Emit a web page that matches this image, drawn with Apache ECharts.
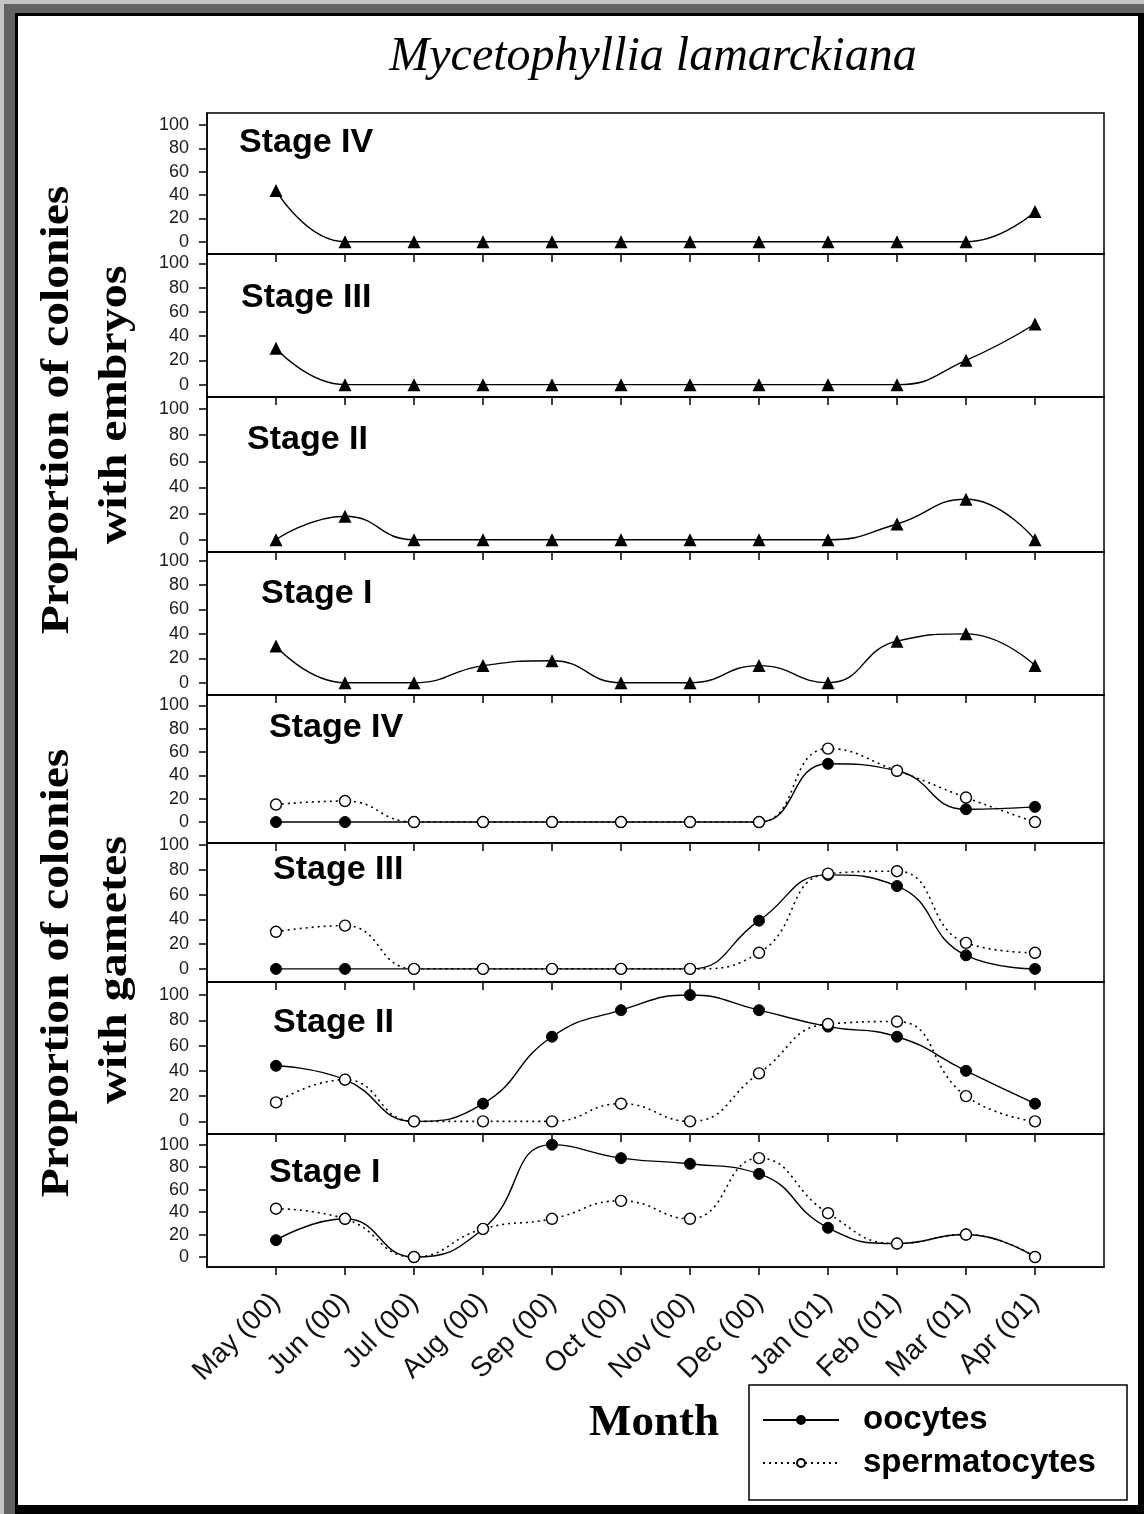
<!DOCTYPE html>
<html>
<head>
<meta charset="utf-8">
<title>Mycetophyllia lamarckiana</title>
<script src="https://cdn.jsdelivr.net/npm/echarts@6/dist/echarts.min.js"></script>
<style>
  html, body { margin: 0; padding: 0; overflow: hidden; background: #fff; }
  .layer { position: absolute; }
</style>
</head>
<body>
<!-- bevelled window frame around the figure -->
<div class="layer" style="left:0;top:0;width:1144px;height:1514px;background:#c4c4c4"></div>
<div class="layer" style="left:4px;top:4px;width:1140px;height:1510px;background:#626262"></div>
<div class="layer" style="left:15px;top:13px;width:1129px;height:1501px;background:#000"></div>
<div class="layer" style="left:18px;top:16px;width:1120px;height:1489px;background:#fff"></div>
<div id="chart" class="layer" style="left:0;top:0;width:1144px;height:1514px"></div>

<script>
// Sampling months (x axis)
const months = ['May (00)', 'Jun (00)', 'Jul (00)', 'Aug (00)', 'Sep (00)', 'Oct (00)',
                'Nov (00)', 'Dec (00)', 'Jan (01)', 'Feb (01)', 'Mar (01)', 'Apr (01)'];
const yTickValues = [0, 20, 40, 60, 80, 100];

// Proportion of colonies with embryos (%)
const embryoStageIV  = [44, 0, 0, 0, 0, 0, 0, 0, 0, 0, 0, 26];
const embryoStageIII = [30, 0, 0, 0, 0, 0, 0, 0, 0, 0, 20, 50];
const embryoStageII  = [0, 18, 0, 0, 0, 0, 0, 0, 0, 12, 31, 0];
const embryoStageI   = [30, 0, 0, 14, 18, 0, 0, 14, 0, 34, 40, 14];

// Proportion of colonies with gametes (%)
const oocyteStageIV  = [0, 0, 0, 0, 0, 0, 0, 0, 50, 44, 11, 13];
const spermStageIV   = [15, 18, 0, 0, 0, 0, 0, 0, 63, 44, 21, 0];
const oocyteStageIII = [0, 0, 0, 0, 0, 0, 0, 39, 76, 67, 11, 0];
const spermStageIII  = [30, 35, 0, 0, 0, 0, 0, 13, 77, 79, 21, 13];
const oocyteStageII  = [44, 33, 0, 14, 67, 88, 100, 88, 75, 67, 40, 14];
const spermStageII   = [15, 33, 0, 0, 0, 14, 0, 38, 77, 79, 20, 0];
const oocyteStageI   = [15, 34, 0, 25, 100, 88, 83, 74, 26, 12, 20, 0];
const spermStageI    = [43, 34, 0, 25, 34, 50, 34, 88, 39, 12, 20, 0];

// Panel stack, top to bottom
const panels = [
  { label: 'Stage IV',  embryo: embryoStageIV },
  { label: 'Stage III', embryo: embryoStageIII },
  { label: 'Stage II',  embryo: embryoStageII },
  { label: 'Stage I',   embryo: embryoStageI },
  { label: 'Stage IV',  oocytes: oocyteStageIV,  sperm: spermStageIV },
  { label: 'Stage III', oocytes: oocyteStageIII, sperm: spermStageIII },
  { label: 'Stage II',  oocytes: oocyteStageII,  sperm: spermStageII },
  { label: 'Stage I',   oocytes: oocyteStageI,   sperm: spermStageI }
];

// Panel geometry (pixels) and value range of each panel's y axis
const panelBoxes = [
  { top: 113,  bottom: 254,  min: -10.5, max: 110.3, labelX: 239, labelY: 143 },
  { top: 254,  bottom: 397,  min: -10.2, max: 107.7, labelX: 241, labelY: 298 },
  { top: 397,  bottom: 552,  min: -9.4,  max: 109.2, labelX: 247, labelY: 440 },
  { top: 552,  bottom: 695,  min: -10.1, max: 107.1, labelX: 261, labelY: 594 },
  { top: 695,  bottom: 843,  min: -18,   max: 109,   labelX: 269, labelY: 728 },
  { top: 843,  bottom: 982,  min: -10.6, max: 101.8, labelX: 273, labelY: 870 },
  { top: 982,  bottom: 1134, min: -10,   max: 110.3, labelX: 273, labelY: 1023 },
  { top: 1134, bottom: 1267, min: -8.9,  max: 109.5, labelX: 269, labelY: 1173 }
];

const PLOT_LEFT = 207, PLOT_RIGHT = 1104;
const INK = '#000';
const SANS = '"Liberation Sans", Arial, Helvetica, sans-serif';
const SERIF = '"Liberation Serif", "Times New Roman", Times, serif';
const monthIndex = months.map((m, i) => i);
const toPoints = vals => vals.map((v, i) => [i, v]);

const grids = [], xAxes = [], yAxes = [], series = [], graphics = [];

panels.forEach((p, k) => {
  const box = panelBoxes[k];
  const last = k === panels.length - 1;
  grids.push({
    left: PLOT_LEFT, width: PLOT_RIGHT - PLOT_LEFT,
    top: box.top, height: box.bottom - box.top,
    show: true, borderColor: INK, borderWidth: 1.5, backgroundColor: 'transparent'
  });
  xAxes.push({
    type: 'value', gridIndex: k, min: -1, max: 12, interval: 1,
    axisLine: { show: true, onZero: false, lineStyle: { color: INK, width: 1.5 } },
    axisTick: { show: true, inside: false, length: 8, customValues: monthIndex,
                lineStyle: { color: INK, width: 1.5 } },
    axisLabel: {
      show: last, customValues: monthIndex, rotate: 45, margin: 31,
      formatter: v => months[v] || '',
      fontFamily: SANS, fontSize: 28, color: '#111'
    },
    splitLine: { show: false }
  });
  yAxes.push({
    type: 'value', gridIndex: k, min: box.min, max: box.max,
    axisLine: { show: true, onZero: false, lineStyle: { color: INK, width: 1.5 } },
    axisTick: { show: true, inside: false, length: 8, customValues: yTickValues,
                lineStyle: { color: INK, width: 1.5 } },
    axisLabel: { customValues: yTickValues, margin: 18, fontFamily: SANS, fontSize: 18, color: '#1a1a1a' },
    splitLine: { show: false }
  });

  const common = { xAxisIndex: k, yAxisIndex: k, smooth: 0.5, animation: false, silent: true, clip: true };
  if (p.embryo) {
    series.push(Object.assign({
      type: 'line', name: 'embryos', data: toPoints(p.embryo),
      symbol: 'triangle', symbolSize: 13,
      itemStyle: { color: INK },
      lineStyle: { color: INK, width: 1.4 }
    }, common));
  } else {
    series.push(Object.assign({
      type: 'line', name: 'oocytes', data: toPoints(p.oocytes),
      symbol: 'circle', symbolSize: 11,
      itemStyle: { color: INK, borderColor: INK, borderWidth: 1 },
      lineStyle: { color: INK, width: 1.4, type: 'solid' }
    }, common));
    series.push(Object.assign({
      type: 'line', name: 'spermatocytes', data: toPoints(p.sperm),
      symbol: 'circle', symbolSize: 11,
      itemStyle: { color: '#fff', borderColor: INK, borderWidth: 1.4 },
      lineStyle: { color: INK, width: 1.6, type: [2, 4] }
    }, common));
  }

  graphics.push({
    type: 'text', x: box.labelX, y: box.labelY, silent: true, z: 10,
    style: { text: p.label, font: 'bold 34px ' + SANS, fill: INK,
             align: 'left', verticalAlign: 'middle', textAlign: 'left', textVerticalAlign: 'middle' }
  });
});

// Figure title, axis titles and legend frame
graphics.push(
  { type: 'text', x: 653, y: 57, silent: true,
    style: { text: 'Mycetophyllia lamarckiana', font: 'italic 48px ' + SERIF, fill: INK,
             align: 'center', verticalAlign: 'middle', textAlign: 'center', textVerticalAlign: 'middle' } },
  { type: 'text', x: 58, y: 410, rotation: Math.PI / 2, scaleX: 1.19, silent: true,
    style: { text: 'Proportion of colonies', font: 'bold 40px ' + SERIF, fill: INK,
             align: 'center', verticalAlign: 'middle', textAlign: 'center', textVerticalAlign: 'middle' } },
  { type: 'text', x: 116, y: 405, rotation: Math.PI / 2, scaleX: 1.2, silent: true,
    style: { text: 'with embryos', font: 'bold 40px ' + SERIF, fill: INK,
             align: 'center', verticalAlign: 'middle', textAlign: 'center', textVerticalAlign: 'middle' } },
  { type: 'text', x: 58, y: 973, rotation: Math.PI / 2, scaleX: 1.19, silent: true,
    style: { text: 'Proportion of colonies', font: 'bold 40px ' + SERIF, fill: INK,
             align: 'center', verticalAlign: 'middle', textAlign: 'center', textVerticalAlign: 'middle' } },
  { type: 'text', x: 116, y: 970, rotation: Math.PI / 2, scaleX: 1.2, silent: true,
    style: { text: 'with gametes', font: 'bold 40px ' + SERIF, fill: INK,
             align: 'center', verticalAlign: 'middle', textAlign: 'center', textVerticalAlign: 'middle' } },
  { type: 'text', x: 654, y: 1423, silent: true,
    style: { text: 'Month', font: 'bold 45px ' + SERIF, fill: INK,
             align: 'center', verticalAlign: 'middle', textAlign: 'center', textVerticalAlign: 'middle' } },
  { type: 'rect', silent: true, z: 1,
    shape: { x: 749, y: 1385, width: 378, height: 115 },
    style: { fill: 'rgba(0,0,0,0)', stroke: INK, lineWidth: 1.5 } }
);

const legendText = { fontFamily: SANS, fontWeight: 'bold', fontSize: 33, color: INK,
                     lineHeight: 36, padding: [0, 0, 0, 19] };

const option = {
  animation: false,
  backgroundColor: 'transparent',
  grid: grids,
  xAxis: xAxes,
  yAxis: yAxes,
  series: series,
  graphic: { elements: graphics },
  legend: [
    { data: ['oocytes'], left: 762, top: 1402, orient: 'horizontal', padding: 0,
      itemWidth: 76, itemHeight: 10, selectedMode: false, textStyle: legendText },
    { data: ['spermatocytes'], left: 762, top: 1445, orient: 'horizontal', padding: 0,
      itemWidth: 76, itemHeight: 10, selectedMode: false, textStyle: legendText }
  ]
};

const chart = echarts.init(document.getElementById('chart'), null, { renderer: 'canvas' });
chart.setOption(option);
</script>
</body>
</html>
